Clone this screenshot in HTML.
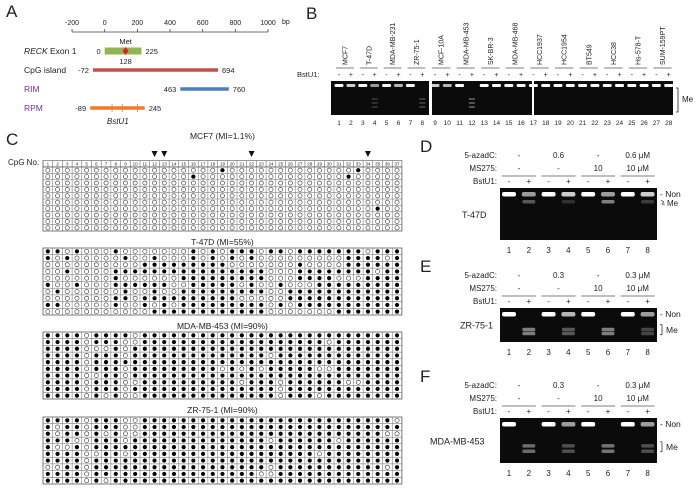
<!DOCTYPE html>
<html><head><meta charset="utf-8"><style>
html,body{margin:0;padding:0;background:#fff;width:700px;height:488px;overflow:hidden}
svg{display:block;font-family:"Liberation Sans",Arial,sans-serif}
</style></head><body>
<svg id="fig" width="700" height="488" viewBox="0 0 700 488" xmlns="http://www.w3.org/2000/svg">
<g id="A"></g>
<g id="B"></g>
<g id="C"></g>
<g id="D"></g>
</svg>
<script>
// ---------- Panel A data ----------
const axisTicks = [-200, 0, 200, 400, 600, 800, 1000];
const featNames = ["RECK Exon 1", "CpG island", "RIM", "RPM"];
const featStart = [0, -72, 463, -89];
const featEnd = [225, 694, 760, 245];
const featColor = ["#92b552", "#c0504d", "#4a7ec2", "#f07a2a"];
const rpmSites = [45, 107, 200];
const metPos = 128;
// ---------- Panel B data ----------
const cellLines = ["MCF7","T-47D","MDA-MB-231","ZR-75-1","MCF-10A","MDA-MB-453","SK-BR-3","MDA-MB-468","HCC1937","HCC1954","BT549","HCC38","Hs-578-T","SUM-159PT"];
const upperBand = [1,0.8,1,0.6,1,0.7,1,0,0.8,0.7,1,0,1,1,1,1,1,1,1,1,1,1,1,1,1,1,1,1];
const meBand = [0,0,0,0.3,0,0,0,0.4,0,0,0,0.6,0,0,0,0,0,0,0,0,0,0,0,0,0,0,0,0];
// ---------- Panel C data ----------
const samples = ["MCF7 (MI=1.1%)","T-47D (MI=55%)","MDA-MB-453 (MI=90%)","ZR-75-1 (MI=90%)"];
const arrowCols = [12,13,22,34];
const mcf7 = ["0000000000000000001000000000000010000","0000000000000001000000000000000100000","0000000000000000000000000000000000000","0000000000000000000000000000000000000","0000000000000000000000000000000000000","0000000000000000000000000000000000000","0000000000000000000000000000000000100","0000000000000000000000000000000000000","0000000000000000000000000000000000000","0000000000000000000000000000000000000"];
const t47d = ["1101000100000001010111011011111110111","1010000010010001010101000000000111101","0000000000111111111000000010000111111","0010000111111111111111100011111111011","0000000100000011111111100011110001111","1001000111111001111101001000111111111","0100000010010011111111100111111111111","0000000110111111111100000111111111111","1100000100101011111111101011111111111","0000000000011111111111100000001111111"];
const mda453 = ["1111011110111111111111111111111111111","1111011100111111111111111111101111111","1111000101111111111111111111111111111","1111011101111111111111101111111111111","1111011111111111111111111111111111111","1111011101111111110101011111001111111","1111001101111111111111111111111111111","1111011100111111111101110111111001111","1111011101111111111111110111111111111","1111010100111111111111110111011111111"];
const zr751 = ["1111011100111111111111111111111111110","1011011100111111111111111111111111111","1011010100111111111111111111111111100","1110011101111111111111101111110111111","1001011111111111111111111111111111111","1111001101111111111111111111011111111","1111011111111111111111111111111111111","0011011111111111111111101111111111101","1111011111111111111111001111111111111","1111010111111111111111111111111111111"];
const grids = [mcf7, t47d, mda453, zr751];
// ---------- Panels D-F data ----------
const azaLabels = [["-","0.6","-","0.6 μM"],["-","0.3","-","0.3 μM"],["-","0.3","-","0.3 μM"]];
const msLabels = ["-","-","10","10 μM"];
const dfCells = ["T-47D","ZR-75-1","MDA-MB-453"];
const nonBand = [[1,0.6,1,0.8,1,0.6,1,0.8],[1,0,1,0.7,1,0,1,0.6],[1,0,1,0.6,1,0,1,0.6]];
const meBandDF = [[0,0.4,0,0.2,0,0.6,0,0.25],[0,0.6,0,0.4,0,0.6,0,0.3],[0,0.5,0,0.35,0,0.55,0,0.35]];

const NS="http://www.w3.org/2000/svg";
function el(parent, tag, attrs, text){const e=document.createElementNS(NS,tag);for(const k in attrs)e.setAttribute(k,attrs[k]);if(text!==undefined)e.textContent=text;parent.appendChild(e);return e;}
function txt(parent,x,y,s,size,anchor,extra){const t=el(parent,'text',Object.assign({x:x,y:y,'font-size':size,'text-anchor':anchor||'start',fill:'#222'},extra||{}),s);return t;}

// ---------- Panel A ----------
const A=document.getElementById('A');
const bx = v => 104.7 + v*0.1633;
let t=txt(A,6,17,"A",17);


let l=el(A,'line',{x1:bx(-200),x2:bx(1000),y1:32,y2:32,stroke:'#444','stroke-width':0.8});


axisTicks.forEach(v=>{
  el(A,'line',{x1:bx(v),x2:bx(v),y1:29,y2:32,stroke:'#444','stroke-width':0.8});
  const tt=txt(A,bx(v),25,String(v),7,'middle');
  
  
});
txt(A,282,24,"bp",7);
const rowY=[51,70,89,108];
featNames.forEach((n,i)=>{
  const y=rowY[i];
  const color = (i>=2)?'#7030a0':'#222';
  if(i===0){const tt=el(A,'text',{x:24,y:y+3,'font-size':8.5,fill:'#222'});
    el(tt,'tspan',{'font-style':'italic'},'RECK');el(tt,'tspan',{},' Exon 1');
    
    }
  else{const tt=txt(A,24,y+3,n,8.5,'start',{fill:color});
    
    }
  const h = i===0?7:3.5;
  const r=el(A,'rect',{x:bx(featStart[i]),y:y-h/2,width:bx(featEnd[i])-bx(featStart[i]),height:h,fill:featColor[i]});
  
  
  txt(A,bx(featStart[i])-4,y+3,String(featStart[i]),7.5,'end');
  txt(A,bx(featEnd[i])+4,y+3,String(featEnd[i]),7.5,'start');
});
rpmSites.forEach(s=>{el(A,'line',{x1:bx(s),x2:bx(s),y1:104,y2:112,stroke:featColor[3],'stroke-width':0.8});});
const mx=bx(metPos);
const met=el(A,'polygon',{points:`${mx},${47} ${mx+3},${51} ${mx},${55} ${mx-3},${51}`,fill:'#e02020'});


txt(A,mx,44,"Met",7.5,'middle');
txt(A,mx,64,String(metPos),7.5,'middle');
txt(A,bx(80),124,"BstU1",8,'middle',{'font-style':'italic'});

// ---------- Panel B ----------
const B=document.getElementById('B');
t=txt(B,306,19,"B",17);


const laneX = i => i<8 ? 339+i*11.9 : 435+(i-8)*12.3;
const segs=[[331,429],[432,532],[534,673]];
segs.forEach(s=>{const r=el(B,'rect',{x:s[0],y:81,width:s[1]-s[0],height:34,fill:'#0b0b0b'});
  
  });
txt(B,297,77,"BstU1:",7.5);
cellLines.forEach((c,k)=>{
  const x1=laneX(2*k), x2=laneX(2*k+1), cx=(x1+x2)/2;
  const tt=txt(B,0,0,c,7,'start',{transform:`translate(${cx+2.5},65) rotate(-90)`});
  
  
  el(B,'line',{x1:x1-3,x2:x2+3,y1:68,y2:68,stroke:'#555','stroke-width':0.8});
});
for(let i=0;i<28;i++){
  const x=laneX(i);
  txt(B,x,77,i%2?'+':'-',7,'middle');
  txt(B,x,125,String(i+1),6.5,'middle');
  if(upperBand[i]>0){const r=el(B,'rect',{x:x-4.5,y:84,width:9,height:3,rx:1.2,fill:'#fff',opacity:upperBand[i]});
    
    }
  if(meBand[i]>0){[98,102,106].forEach(y=>{const r=el(B,'rect',{x:x-3,y:y,width:6,height:2,fill:'#ccc',opacity:meBand[i]*0.6});
    
    });}
}
el(B,'path',{d:'M676,88 h2 v24 h-2',fill:'none',stroke:'#222','stroke-width':0.8});
txt(B,682,102,"Me",8);

// ---------- Panel C ----------
const C=document.getElementById('C');
t=txt(C,6,145,"C",17);


const gx0=43, cw=9.7;
const gridTop=[167,248,332,417], titleY=[136,242,326,410], rh=[6.4,6.7,6.7,6.7];
txt(C,8,165,"CpG No.",8);
el(C,'rect',{x:gx0,y:160.6,width:cw*37,height:6.4,fill:'#fff',stroke:'#555','stroke-width':0.6});
for(let j=0;j<37;j++){
  el(C,'line',{x1:gx0+j*cw,x2:gx0+j*cw,y1:160.6,y2:167,stroke:'#555','stroke-width':0.5});
  txt(C,gx0+j*cw+cw/2,165.6,String(j+1),4.5,'middle');
}
arrowCols.forEach(c=>{const p=el(C,'polygon',{points:`${gx0+(c-0.5)*cw-3},151 ${gx0+(c-0.5)*cw+3},151 ${gx0+(c-0.5)*cw},157`,fill:'#111'});
  
  });
grids.forEach((g,s)=>{
  const tt=txt(C,gx0+cw*18.5,titleY[s]+3,samples[s],8.5,'middle');
  
  
  const top=gridTop[s], h=rh[s];
  const r=el(C,'rect',{x:gx0,y:top,width:cw*37,height:h*10,fill:'#fff',stroke:'#444','stroke-width':0.7});
  
  
  for(let j=1;j<37;j++) el(C,'line',{x1:gx0+j*cw,x2:gx0+j*cw,y1:top,y2:top+h*10,stroke:'#666','stroke-width':0.5});
  for(let i=1;i<10;i++) el(C,'line',{x1:gx0,x2:gx0+37*cw,y1:top+i*h,y2:top+i*h,stroke:'#666','stroke-width':0.5});
  g.forEach((row,i)=>{
    for(let j=0;j<37;j++){
      const on=row[j]==='1';
      const c=el(C,'circle',{cx:gx0+j*cw+cw/2,cy:top+i*h+h/2,r:2.1,fill:on?'#000':'#fff',stroke:'#333','stroke-width':on?0:0.6});
      
      
    }
  });
});

// ---------- Panels D-F ----------
const D=document.getElementById('D');
const panelLetter=["D","E","F"], pTop=[138,258,368];
const dLaneX = i => 509 + i*19.8;
for(let p=0;p<3;p++){
  const y0=pTop[p];
  const gp=el(D,'g',{});
  
  
  const lt=txt(gp,420,y0+14,panelLetter[p],17);
  
  
  txt(gp,497,y0+20,"5-azadC:",8,'end');
  txt(gp,497,y0+33,"MS275:",8,'end');
  txt(gp,497,y0+46,"BstU1:",8,'end');
  for(let k=0;k<4;k++){
    const cx=(dLaneX(2*k)+dLaneX(2*k+1))/2;
    txt(gp,cx,y0+20,azaLabels[p][k],8,'middle');
    txt(gp,cx,y0+33,msLabels[k],8,'middle');
    el(gp,'line',{x1:cx-17,x2:cx+17,y1:y0+38,y2:y0+38,stroke:'#555','stroke-width':0.8});
  }
  const gTop=y0+50, gH=[52,34,45][p];
  const gel=el(gp,'rect',{x:500,y:gTop,width:157,height:gH,fill:'#0b0b0b'});
  
  
  for(let i=0;i<8;i++){
    const x=dLaneX(i);
    txt(gp,x,y0+46,i%2?'+':'-',8,'middle');
    txt(gp,x,gTop+gH+13,String(i+1),8,'middle');
    if(nonBand[p][i]>0){const r=el(gp,'rect',{x:x-7,y:gTop+4,width:14,height:4.5,rx:2,fill:'#fff',opacity:nonBand[p][i]});
      
      }
    if(meBandDF[p][i]>0){
      const ys = p===0?[gTop+12]:[gTop+gH*0.58,gTop+gH*0.7];
      ys.forEach(y=>{const r=el(gp,'rect',{x:x-6.5,y:y,width:13,height:3.5,rx:1.5,fill:'#ccc',opacity:meBandDF[p][i]});
        
        });
    }
  }
  const cl=txt(gp,[462,460,430][p],gTop+gH*0.52+3,dfCells[p],9,'start');
  
  
  txt(gp,660,gTop+9,"- Non",8.5);
  if(p===0){txt(gp,667,gTop+18,"Me",8);el(gp,'path',{d:`M661,${gTop+12} l3,2 l-2,2 l3,1`,fill:'none',stroke:'#222','stroke-width':0.6});}
  else{const ym=gTop+gH*0.64;el(gp,'path',{d:`M660,${ym-5} h2 v10 h-2`,fill:'none',stroke:'#222','stroke-width':0.7});txt(gp,666,ym+3,"Me",8.5);}
}
</script>
</body></html>
